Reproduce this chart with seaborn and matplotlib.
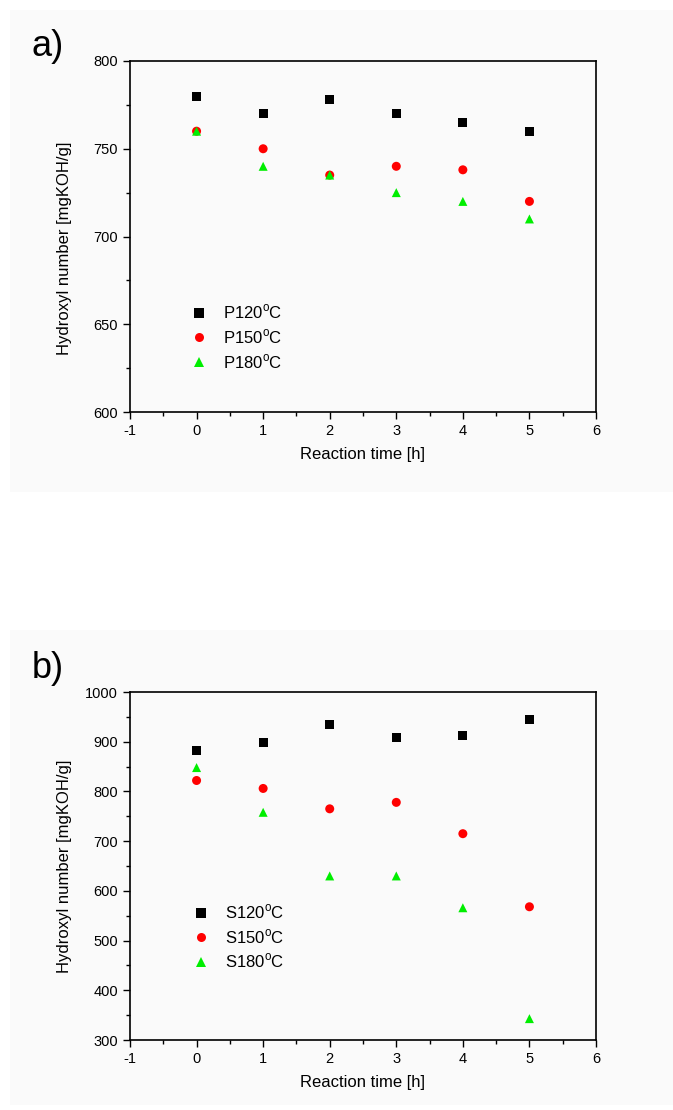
import matplotlib
matplotlib.use("Agg")
from matplotlib import pyplot as plt
from matplotlib.patches import Rectangle
from matplotlib.ticker import MultipleLocator
import pandas as pd
import seaborn as sns

# reaction time [h]
time_h = [0, 1, 2, 3, 4, 5]

# panel a) P series
p120 = [780, 770, 778, 770, 765, 760]
p150 = [760, 750, 735, 740, 738, 720]
p180 = [760, 740, 735, 725, 720, 710]

# panel b) S series
s120 = [882, 898, 934, 908, 912, 944]
s150 = [822, 806, 765, 778, 715, 568]
s180 = [848, 758, 630, 630, 566, 343]

temps = ["120", "150", "180"]
colors = ["black", "red", "#00ee00"]
markers = ["s", "o", "^"]


def make_df(prefix, series):
    rows = []
    for t, vals in zip(temps, series):
        lab = f"{prefix}{t}$^{{\\mathregular{{o}}}}$C"
        for x, y in zip(time_h, vals):
            rows.append({"time": x, "oh": y, "sample": lab})
    return pd.DataFrame(rows)


sns.set_style("white")
plt.rcParams["font.family"] = ["Liberation Sans", "DejaVu Sans"]
plt.rcParams["mathtext.fontset"] = "custom"
plt.rcParams["mathtext.rm"] = "Liberation Sans"
plt.rcParams["axes.unicode_minus"] = False
plt.rcParams["text.color"] = "black"
plt.rcParams["axes.labelcolor"] = "black"

W, H = 673, 1110
fig = plt.figure(figsize=(W / 100, H / 100), dpi=100)

# faint grey page behind each panel
bg = "#fafafa"
fig.patches.append(Rectangle((10 / W, 1 - 492 / H), 663 / W, 482 / H, transform=fig.transFigure,
                             facecolor=bg, edgecolor="none", zorder=-10))
fig.patches.append(Rectangle((10 / W, 1 - 1105 / H), 663 / W, 475 / H, transform=fig.transFigure,
                             facecolor=bg, edgecolor="none", zorder=-10))

ax_a = fig.add_axes([130 / W, 1 - 412 / H, 466 / W, 351 / H])
ax_b = fig.add_axes([130 / W, 1 - 1040 / H, 466 / W, 348 / H])

panels = [
    (ax_a, make_df("P", [p120, p150, p180]), (600, 800), 50, 25, (0.099, 0.353), "a)", 46, 0.467),
    (ax_b, make_df("S", [s120, s150, s180]), (300, 1000), 100, 50, (0.103, 0.437), "b)", 668, 0.5),
]

for ax, df, ylim, major, minor, leg_pos, tag, tag_y, yl_y in panels:
    ax.set_facecolor(bg)
    pal = dict(zip(df["sample"].unique(), colors))
    mk = dict(zip(df["sample"].unique(), markers))
    sns.scatterplot(data=df, x="time", y="oh", hue="sample", style="sample",
                    palette=pal, markers=mk, s=42, linewidth=0, ax=ax)
    ax.set_xlim(-1, 6)
    ax.set_ylim(*ylim)
    ax.xaxis.set_major_locator(MultipleLocator(1))
    ax.xaxis.set_minor_locator(MultipleLocator(0.5))
    ax.yaxis.set_major_locator(MultipleLocator(major))
    ax.yaxis.set_minor_locator(MultipleLocator(minor))
    ax.tick_params(axis="both", which="both", direction="out", top=False, right=False,
                   bottom=True, left=True, colors="black", labelsize=10.5)
    ax.tick_params(which="major", length=5, width=1)
    ax.tick_params(which="minor", length=3, width=1)
    for sp in ax.spines.values():
        sp.set_color("black")
        sp.set_linewidth(1.2)
    ax.set_xlabel("Reaction time [h]", fontsize=12)
    ax.set_ylabel("Hydroxyl number [mgKOH/g]", fontsize=12)
    ax.xaxis.set_label_coords(0.5, -0.10)
    ax.yaxis.set_label_coords(-0.124, yl_y)
    ax.legend(loc="upper left", bbox_to_anchor=leg_pos, frameon=False, fontsize=12,
              handlelength=1.0, handletextpad=0.9, labelspacing=0.35)
    fig.text(48 / W, 1 - tag_y / H, tag, fontsize=26, ha="center", va="center")

fig.savefig("out.png", dpi=100, facecolor="white")
